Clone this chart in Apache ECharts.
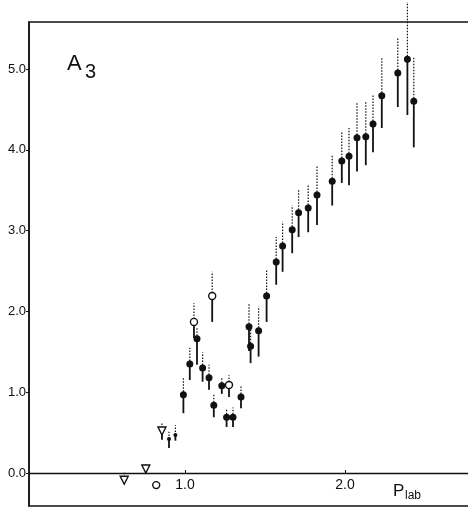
<!DOCTYPE html>
<html><head><meta charset="utf-8">
<script src="https://cdn.jsdelivr.net/npm/echarts@6/dist/echarts.min.js"></script>
<style>html,body{margin:0;padding:0;background:#fff}#c{width:468px;height:511px}</style>
</head><body><div id="c"></div>
<script>
// Tick labels
const yTicks = [0, 1, 2, 3, 4, 5];
const xTicks = [1, 2];

// Filled circles: p_lab, A3, upper error, lower error
const filledP = [0.99, 1.03, 1.075, 1.11, 1.15, 1.18, 1.23, 1.26, 1.30, 1.35, 1.40, 1.41, 1.46, 1.51, 1.57, 1.61, 1.67, 1.71, 1.77, 1.825, 1.92, 1.98, 2.025, 2.075, 2.13, 2.175, 2.23, 2.33, 2.39, 2.43];
const filledA3 = [0.97, 1.35, 1.66, 1.30, 1.18, 0.84, 1.08, 0.69, 0.69, 0.94, 1.81, 1.57, 1.76, 2.19, 2.61, 2.81, 3.01, 3.22, 3.28, 3.44, 3.61, 3.86, 3.92, 4.15, 4.16, 4.32, 4.67, 4.95, 5.12, 4.60];
const filledUp = [0.21, 0.20, 0.15, 0.19, 0.16, 0.13, 0.11, 0.11, 0.12, 0.15, 0.29, 0.25, 0.30, 0.32, 0.31, 0.30, 0.30, 0.28, 0.28, 0.37, 0.32, 0.36, 0.35, 0.44, 0.43, 0.36, 0.47, 0.43, 0.71, 0.54];
const filledDown = [0.23, 0.20, 0.32, 0.17, 0.15, 0.15, 0.10, 0.12, 0.12, 0.14, 0.30, 0.21, 0.32, 0.32, 0.28, 0.32, 0.29, 0.30, 0.30, 0.37, 0.30, 0.27, 0.36, 0.42, 0.35, 0.35, 0.40, 0.42, 0.69, 0.57];

// Small filled points
const smallP = [0.90, 0.94];
const smallA3 = [0.42, 0.47];
const smallUp = [0.09, 0.12];
const smallDown = [0.11, 0.07];

// Open circles
const openP = [0.82, 1.056, 1.17, 1.275];
const openA3 = [-0.15, 1.87, 2.19, 1.09];
const openUp = [0.04, 0.23, 0.30, 0.12];
const openDown = [0.04, 0.20, 0.32, 0.15];

// Open triangles
const triP = [0.62, 0.755, 0.856];
const triA3 = [-0.09, 0.05, 0.52];
const triUp = [0.10, 0.07, 0.10];
const triDown = [0.00, 0.05, 0.11];

const INK = '#111';
const FONT = 'Liberation Sans';

function pts(P, A, U, D) { return P.map((p, i) => [p, A[i], U[i], D[i]]); }
const filled = pts(filledP, filledA3, filledUp, filledDown);
const small = pts(smallP, smallA3, smallUp, smallDown);
const open = pts(openP, openA3, openUp, openDown);
const tri = pts(triP, triA3, triUp, triDown);
const allErr = filled.concat(small, open, tri);

function renderErr(params, api) {
  const x = api.value(0), y = api.value(1), u = api.value(2), d = api.value(3);
  const c = api.coord([x, y]);
  const t = api.coord([x, y + u]);
  const b = api.coord([x, y - d]);
  return {
    type: 'group',
    children: [
      { type: 'line', shape: { x1: c[0], y1: c[1], x2: t[0], y2: t[1] }, style: { stroke: INK, lineWidth: 1.2, lineDash: [1.5, 1.5] } },
      { type: 'line', shape: { x1: c[0], y1: c[1], x2: b[0], y2: b[1] }, style: { stroke: INK, lineWidth: 1.8 } }
    ]
  };
}

const chart = echarts.init(document.getElementById('c'), null, { renderer: 'canvas' });
chart.setOption({
  animation: false,
  backgroundColor: '#fff',
  grid: { left: 29, right: -2, top: 22, bottom: 5, show: true, borderColor: INK, borderWidth: 1.5, backgroundColor: 'transparent', outerBoundsMode: 'none' },
  xAxis: {
    type: 'value', min: 0.025, max: 2.78125, position: 'bottom', offset: -33,
    axisLine: { show: true, onZero: false, lineStyle: { color: INK, width: 1.3 } },
    axisTick: { show: true, inside: true, length: 3, customValues: xTicks, lineStyle: { color: INK } },
    axisLabel: { show: true, customValues: xTicks, formatter: v => v.toFixed(1), margin: 5, fontSize: 14, color: INK, fontFamily: FONT },
    splitLine: { show: false }
  },
  yAxis: {
    type: 'value', min: -0.4084, max: 5.5817,
    axisLine: { show: true, onZero: false, lineStyle: { color: INK, width: 1.5 } },
    axisTick: { show: true, length: 3, customValues: yTicks, lineStyle: { color: INK } },
    axisLabel: { customValues: yTicks, formatter: v => v.toFixed(1), margin: 3, fontSize: 13, color: INK, fontFamily: FONT },
    splitLine: { show: false }
  },
  series: [
    { type: 'custom', renderItem: renderErr, data: allErr, clip: false, z: 1 },
    { type: 'scatter', data: filled, symbol: 'circle', symbolSize: 7, itemStyle: { color: INK, opacity: 1 }, z: 3 },
    { type: 'scatter', data: small, symbol: 'circle', symbolSize: 4, itemStyle: { color: INK, opacity: 1 }, z: 3 },
    { type: 'scatter', data: open, symbol: 'circle', symbolSize: 7, itemStyle: { color: '#fff', borderColor: INK, borderWidth: 1.4, opacity: 1 }, z: 3 },
    { type: 'scatter', data: tri, symbol: 'triangle', symbolRotate: 180, symbolSize: 8, itemStyle: { color: '#fff', borderColor: INK, borderWidth: 1.4, opacity: 1 }, z: 3 }
  ],
  graphic: [
    { type: 'text', left: 67, top: 53, style: { text: 'A', font: '22px "Liberation Sans"', fill: INK } },
    { type: 'text', left: 85, top: 62, style: { text: '3', font: '20px "Liberation Sans"', fill: INK } },
    { type: 'text', left: 393, top: 483, style: { text: 'P', font: '17px "Liberation Sans"', fill: INK } },
    { type: 'text', left: 405, top: 490, style: { text: 'lab', font: '12px "Liberation Sans"', fill: INK } }
  ]
});
</script>
</body></html>
